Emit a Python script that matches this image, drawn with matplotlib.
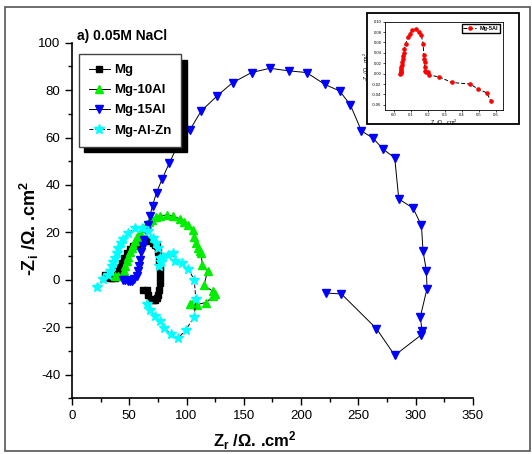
import matplotlib.pyplot as plt
from matplotlib.patches import Rectangle

plt.rcParams['font.family'] = ['Liberation Sans', 'DejaVu Sans']
plt.rcParams['axes.unicode_minus'] = False
plt.rcParams['mathtext.fontset'] = 'custom'
plt.rcParams['mathtext.rm'] = 'Liberation Sans'
plt.rcParams['mathtext.bf'] = 'Liberation Sans:bold'
plt.rcParams['mathtext.it'] = 'Liberation Sans:italic'

# Nyquist data (Z_r, -Z_i in ohm.cm2)
mg_x = [28.8, 31.0, 33.1, 35.3, 37.5, 39.0, 40.4, 42.0, 43.3, 45.5, 47.7, 50.5, 53.5, 57.0,
        60.8, 63.7, 66.6, 69.0, 70.9, 72.4, 73.8, 75.0, 76.0, 76.7, 76.7, 76.7, 76.7, 76.2,
        75.0, 73.8, 72.4, 70.3, 68.0, 66.0, 65.1, 62.2]
mg_y = [2.1, 1.2, 0.8, 0.8, 0.8, 2.0, 3.5, 5.3, 7.1, 9.2, 11.3, 12.8, 14.1, 15.2,
        16.2, 16.5, 16.6, 16.2, 15.5, 14.8, 14.1, 11.5, 8.0, 5.5, 3.5, 1.0, -1.5, -4.2,
        -6.3, -7.5, -8.4, -8.6, -8.3, -6.5, -4.2, -4.5]

al10_x = [37.5, 40.5, 43.3, 45.0, 46.2, 47.6, 49.1, 50.5, 52.0, 53.5, 55.0, 57.0, 59.3, 62.0,
          65.1, 67.5, 69.5, 73.0, 76.7, 82.5, 88.4, 94.2, 98.0, 101.5, 105.8, 106.7, 108.5,
          110.2, 111.5, 112.5, 113.9, 118.3, 115.1, 123.3, 124.5, 123.3, 116.9, 108.7, 105.0, 102.9]
al10_y = [1.4, 1.6, 1.7, 3.6, 5.6, 7.7, 9.8, 11.5, 13.3, 14.8, 16.2, 18.0, 19.7, 21.8,
          23.6, 24.5, 25.3, 26.3, 27.0, 27.3, 27.0, 25.6, 24.5, 23.2, 21.1, 18.0, 15.5,
          13.3, 12.2, 11.2, 6.3, 3.5, -2.4, -4.9, -6.0, -7.0, -9.6, -10.5, -10.3, -10.1]

al15_x = [44.8, 46.2, 48.5, 50.5, 52.0, 54.5, 56.4, 57.5, 58.5, 59.3, 60.5, 61.6, 62.8, 64.9,
          66.7, 67.9, 70.3, 73.8, 78.8, 84.9, 92.2, 102.9, 112.8, 127.0, 140.1, 156.7, 172.7,
          189.5, 204.7, 220.7, 233.7, 243.0, 252.6, 262.8, 271.5, 281.7, 285.2, 297.7, 305.0,
          306.4, 309.3, 309.9, 304.0, 305.5, 305.0, 281.7, 265.7, 235.2, 222.1]
al15_y = [0.0, 0.0, -0.5, -0.7, -0.7, 0.2, 1.4, 3.5, 6.0, 8.5, 11.5, 14.1, 16.9, 20.4,
          23.2, 26.7, 31.3, 36.8, 42.6, 49.2, 56.6, 63.2, 71.2, 77.7, 83.1, 87.4, 89.2,
          88.1, 87.4, 82.4, 79.6, 73.7, 62.8, 59.7, 55.1, 51.4, 34.1, 30.2, 22.9,
          12.0, 3.9, -3.7, -15.7, -21.5, -23.2, -31.9, -20.6, -6.0, -5.6]

alzn_x = [21.5, 27.3, 31.7, 33.2, 34.6, 36.0, 37.5, 39.0, 40.4, 42.5, 44.8, 49.1, 55.0, 60.8,
          66.6, 71.0, 73.5, 75.3, 76.7, 76.2, 77.5, 79.7, 84.0, 88.4, 89.8, 95.6, 101.5, 106.7,
          108.1, 106.7, 99.1, 92.7, 86.3, 80.2, 76.7, 72.4, 68.0, 65.1]
alzn_y = [-3.1, 0.3, 2.1, 3.8, 5.6, 7.3, 9.1, 11.2, 13.3, 15.3, 17.1, 19.7, 21.8, 22.0,
          20.4, 17.6, 15.5, 13.3, 9.1, 5.6, 7.5, 9.6, 10.5, 11.2, 7.7, 7.0, 4.5, 0.0,
          -8.1, -15.7, -21.3, -24.6, -22.9, -20.4, -17.6, -15.2, -12.6, -10.1]

# inset: Mg-5Al
al5_x = [0.040, 0.041, 0.042, 0.043, 0.044, 0.046, 0.048, 0.050, 0.053, 0.056, 0.059, 0.063,
         0.072, 0.082, 0.095, 0.110, 0.130, 0.149, 0.162, 0.173, 0.177, 0.179, 0.181, 0.181,
         0.185, 0.190, 0.200, 0.206, 0.267, 0.339, 0.448, 0.491, 0.545, 0.568]
al5_y = [0.000, 0.002, 0.004, 0.006, 0.008, 0.012, 0.016, 0.022, 0.029, 0.034, 0.039, 0.048,
         0.058, 0.070, 0.077, 0.084, 0.086, 0.081, 0.074, 0.058, 0.035, 0.028, 0.023, 0.013,
         0.005, 0.003, 0.003, -0.003, -0.006, -0.017, -0.020, -0.029, -0.037, -0.052]

fig = plt.figure(figsize=(5.32, 4.54), dpi=100)
fig.patches.append(Rectangle((5 / 532, 3 / 454), 525 / 532, 444 / 454, transform=fig.transFigure,
                             fill=False, edgecolor='#555555', lw=1.2))

ax = fig.add_axes([0.1353, 0.1227, 0.7538, 0.7833])
ax.plot(mg_x, mg_y, color='black', lw=0.7, marker='s', mfc='black', mec='black', ms=5, label='Mg')
ax.plot(al10_x, al10_y, color='black', lw=0.7, marker='^', mfc='#00ee00', mec='#00ee00', ms=6, label='Mg-10Al')
ax.plot(al15_x, al15_y, color='black', lw=0.7, marker='v', mfc='#0000ff', mec='#0000ff', ms=6, label='Mg-15Al')
ax.plot(alzn_x, alzn_y, color='black', lw=0.7, ls=(0, (4, 2)), marker='*', mfc='#00ffff',
        mec='#00ffff', ms=7, label='Mg-Al-Zn')

ax.set_xlim(0, 350)
ax.set_ylim(-50, 100)
ax.set_xticks(range(0, 351, 50))
ax.set_xticks(range(25, 350, 50), minor=True)
ax.set_yticks(range(-40, 101, 20))
ax.set_yticks(range(-50, 101, 10), minor=True)
ax.spines['top'].set_visible(False)
ax.spines['right'].set_visible(False)
for s in ['left', 'bottom']:
    ax.spines[s].set_linewidth(1.2)
ax.tick_params(which='major', direction='out', length=5, width=1, labelsize=9.5)
ax.tick_params(which='minor', direction='out', length=3, width=1)
ax.set_xlabel(r'Z$_\mathbf{r}$ /Ω. .cm$^\mathbf{2}$', fontsize=12, fontweight='bold')
ax.set_ylabel(r'-Z$_\mathbf{i}$ /Ω. .cm$^\mathbf{2}$', fontsize=13, fontweight='bold')
ax.xaxis.set_label_coords(0.456, -0.088)
ax.yaxis.set_label_coords(-0.078, 0.479)
ax.text(0.012, 0.998, 'a) 0.05M NaCl', transform=ax.transAxes, fontsize=10, fontweight='bold', va='bottom')

leg = ax.legend(loc='upper left', bbox_to_anchor=(0.017, 0.968), prop={'weight': 'bold', 'size': 9.5},
                fancybox=False, shadow={'color': 'black', 'alpha': 1, 'ox': 4, 'oy': -4}, edgecolor='#444444',
                handlelength=1.6, handletextpad=0.3, borderpad=0.75, labelspacing=0.6, framealpha=1,
                borderaxespad=0)

# inset
fig.patches.append(Rectangle((367 / 532, 1 - 124 / 454), 152 / 532, 111 / 454, transform=fig.transFigure,
                             fill=True, facecolor='white', edgecolor='black', lw=1.3, zorder=1))
ins = fig.add_axes([0.7237, 0.7577, 0.2218, 0.1945])
ins.set_zorder(3)
ins.plot(al5_x, al5_y, color='black', lw=0.7, ls=(0, (4, 2)), marker='o', mfc='red', mec='red', ms=2.3,
         label='Mg-5Al')
ins.set_xlim(-0.05, 0.64)
ins.set_ylim(-0.07, 0.10)
ins.set_xticks([0.0, 0.1, 0.2, 0.3, 0.4, 0.5, 0.6])
ins.set_yticks([-0.06, -0.04, -0.02, 0.00, 0.02, 0.04, 0.06, 0.08, 0.10])
ins.set_xticklabels(['0.0', '0.1', '0.2', '0.3', '0.4', '0.5', '0.6'])
ins.set_yticklabels(['-0.06', '-0.04', '-0.02', '0.00', '0.02', '0.04', '0.06', '0.08', '0.10'])
ins.tick_params(direction='out', length=1.5, width=0.5, labelsize=3, pad=1)
for s in ins.spines.values():
    s.set_linewidth(0.6)
ins.set_xlabel(r'Z$_r$ /Ω. .cm$^2$', fontsize=4, labelpad=0)
ins.set_ylabel(r'-Z$_i$ /Ω. .cm$^2$', fontsize=4, labelpad=0)
ins.legend(loc='upper right', prop={'weight': 'bold', 'size': 4}, fancybox=False,
           edgecolor='black', handlelength=2.2, borderpad=0.3, framealpha=1)

plt.savefig('out.png', dpi=100)
